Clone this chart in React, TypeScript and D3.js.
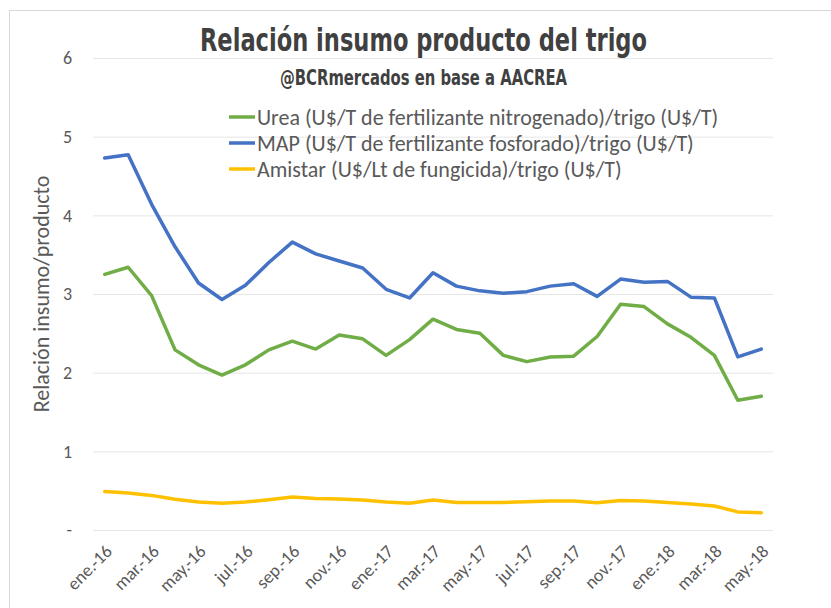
import React, { useEffect, useRef } from 'react';
import * as d3 from 'd3';

// monthly data, ene.-16 .. may.-18
const months = [
  'ene.-16', 'feb.-16', 'mar.-16', 'abr.-16', 'may.-16', 'jun.-16', 'jul.-16', 'ago.-16', 'sep.-16', 'oct.-16', 'nov.-16', 'dic.-16',
  'ene.-17', 'feb.-17', 'mar.-17', 'abr.-17', 'may.-17', 'jun.-17', 'jul.-17', 'ago.-17', 'sep.-17', 'oct.-17', 'nov.-17', 'dic.-17',
  'ene.-18', 'feb.-18', 'mar.-18', 'abr.-18', 'may.-18',
];
const xTickLabels = months.filter((_, i) => i % 2 === 0);

const urea = [3.25, 3.34, 2.98, 2.29, 2.1, 1.97, 2.1, 2.29, 2.4, 2.3, 2.48, 2.43, 2.22, 2.42, 2.68, 2.55, 2.5, 2.22, 2.14, 2.2, 2.21, 2.46, 2.87, 2.84, 2.62, 2.45, 2.22, 1.65, 1.7];
const map = [4.73, 4.77, 4.14, 3.6, 3.14, 2.93, 3.11, 3.4, 3.66, 3.51, 3.42, 3.33, 3.06, 2.95, 3.27, 3.1, 3.04, 3.01, 3.03, 3.1, 3.13, 2.97, 3.19, 3.15, 3.16, 2.96, 2.95, 2.2, 2.3];
const amistar = [0.49, 0.47, 0.44, 0.39, 0.355, 0.34, 0.355, 0.385, 0.42, 0.4, 0.395, 0.38, 0.355, 0.34, 0.38, 0.35, 0.35, 0.35, 0.36, 0.37, 0.37, 0.345, 0.375, 0.37, 0.35, 0.33, 0.305, 0.23, 0.22];

const seriesNames = [
  'Urea (U$/T de fertilizante nitrogenado)/trigo (U$/T)',
  'MAP (U$/T de fertilizante fosforado)/trigo (U$/T)',
  'Amistar (U$/Lt de fungicida)/trigo (U$/T)',
];
const seriesColors = ['#70AD47', '#4472C4', '#FFC000'];
const yTicks = [0, 1, 2, 3, 4, 5, 6];

const App = () => {
  const svgRef = useRef<SVGSVGElement>(null);

  useEffect(() => {
    document.body.style.margin = '0';
    const svg = d3.select(svgRef.current);
    svg.selectAll('*').remove();

    const width = 831;
    const height = 608;
    const margin = { top: 58, right: 58, bottom: 78, left: 93 };
    const font = 'Calibri, Carlito, "Liberation Sans", Arial, sans-serif';
    const narrow = '"Liberation Sans Narrow", "DejaVu Sans Condensed", "Arial Narrow", sans-serif';
    const textGray = '#595959';

    svg.attr('width', width).attr('height', height);

    // chart area border (cropped on right/bottom)
    svg.append('rect')
      .attr('x', 9.5).attr('y', 10.5)
      .attr('width', width + 20).attr('height', height + 20)
      .attr('fill', 'white')
      .attr('stroke', '#d9d9d9');

    const x = d3.scaleBand<string>()
      .domain(months)
      .range([margin.left, width - margin.right]);

    const y = d3.scaleLinear()
      .domain([0, 6])
      .range([height - margin.bottom, margin.top]);

    // gridlines
    svg.append('g')
      .selectAll('line')
      .data(yTicks)
      .enter()
      .append('line')
      .attr('x1', margin.left)
      .attr('x2', width - margin.right)
      .attr('y1', d => y(d) + 0.5)
      .attr('y2', d => y(d) + 0.5)
      .attr('stroke', '#e6e6e6')
      .attr('stroke-width', 1);

    // y tick labels
    svg.append('g')
      .selectAll('text')
      .data(yTicks)
      .enter()
      .append('text')
      .attr('x', 72)
      .attr('y', d => y(d))
      .attr('dy', '0.35em')
      .attr('text-anchor', 'end')
      .attr('font-family', font)
      .attr('font-size', 18)
      .attr('fill', textGray)
      .text(d => (d === 0 ? '-' : String(d)));

    // x tick labels
    svg.append('g')
      .selectAll('text')
      .data(xTickLabels)
      .enter()
      .append('text')
      .attr('transform', d => `translate(${x(d)! + x.bandwidth() / 2 + 4},${height - margin.bottom + 18}) rotate(-45)`)
      .attr('text-anchor', 'end')
      .attr('dy', '0.35em')
      .attr('font-family', font)
      .attr('font-size', 18)
      .attr('fill', textGray)
      .text(d => d);

    // y axis title
    svg.append('text')
      .attr('transform', `translate(41,${(margin.top + height - margin.bottom) / 2}) rotate(-90)`)
      .attr('text-anchor', 'middle')
      .attr('dy', '0.35em')
      .attr('font-family', font)
      .attr('font-size', 22)
      .attr('fill', textGray)
      .text('Relación insumo/producto');

    // lines
    const line = d3.line<number>()
      .x((_, i) => x(months[i])! + x.bandwidth() / 2)
      .y(d => y(d))
      .curve(d3.curveLinear);

    [urea, map, amistar].forEach((data, k) => {
      svg.append('path')
        .datum(data)
        .attr('fill', 'none')
        .attr('stroke', seriesColors[k])
        .attr('stroke-width', 3.5)
        .attr('stroke-linejoin', 'round')
        .attr('stroke-linecap', 'round')
        .attr('d', line);
    });

    // title + subtitle
    svg.append('text')
      .attr('x', 200)
      .attr('y', 51)
      .attr('textLength', 447)
      .attr('lengthAdjust', 'spacingAndGlyphs')
      .attr('font-family', narrow)
      .attr('font-weight', 'bold')
      .attr('font-size', 32)
      .attr('fill', '#404040')
      .text('Relación insumo producto del trigo');

    svg.append('text')
      .attr('x', 280)
      .attr('y', 85)
      .attr('textLength', 287)
      .attr('lengthAdjust', 'spacingAndGlyphs')
      .attr('font-family', narrow)
      .attr('font-weight', 'bold')
      .attr('font-size', 22)
      .attr('fill', '#404040')
      .text('@BCRmercados en base a AACREA');

    // legend
    const legend = svg.append('g').attr('transform', 'translate(229,117)');
    seriesNames.forEach((name, k) => {
      const row = legend.append('g').attr('transform', `translate(0,${k * 26})`);
      row.append('line')
        .attr('x1', 0).attr('x2', 26)
        .attr('stroke', seriesColors[k])
        .attr('stroke-width', 3.5);
      row.append('text')
        .attr('x', 28)
        .attr('dy', '0.35em')
        .attr('font-family', font)
        .attr('font-size', 22)
        .attr('fill', textGray)
        .text(name);
    });
  }, []);

  return <svg ref={svgRef} style={{ display: 'block' }}></svg>;
};

export default App;
